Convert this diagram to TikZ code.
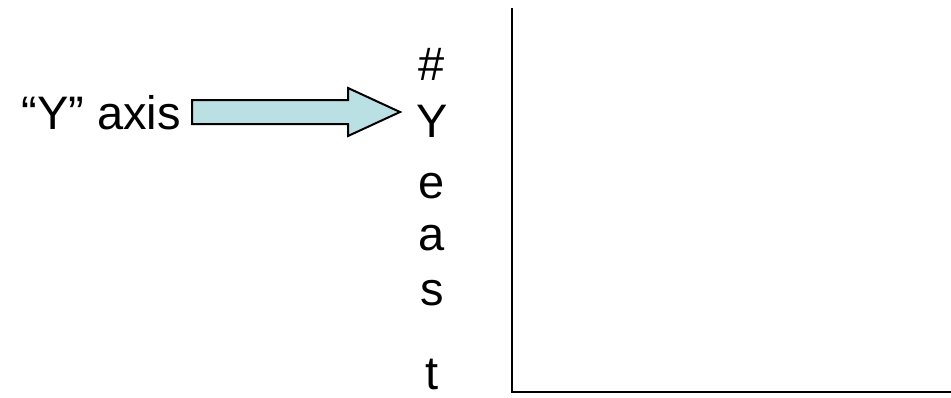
\documentclass[tikz,border=0pt]{standalone}
\usepackage{fontspec}
\setmainfont{Liberation Sans}
\begin{document}
\begin{tikzpicture}[x=1pt,y=-1pt,
  lbl/.style={font=\fontsize{47}{56}\selectfont, inner sep=0pt, anchor=base},
  axisline/.style={line width=2.4pt, black},
  fatarrow/.style={draw=black, line width=2pt, fill=arrowfill, line join=miter}]
\definecolor{arrowfill}{RGB}{187,224,227}
\useasboundingbox (0,0) rectangle (951,397);

% axis label and pointer
\node[lbl, anchor=base east] (ylabel) at (181,129) {“Y” axis};
\draw[fatarrow] (192,100) -- (348,100) -- (348,88) -- (400,112)
  -- (348,136) -- (348,124) -- (192,124) -- cycle;

% vertical caption, one letter per line
\node[lbl] (c1) at (432,80) {\#};
\node[lbl] (c2) at (432,137) {Y};
\node[lbl] (c3) at (432,198) {e};
\node[lbl] (c4) at (432,250) {a};
\node[lbl] (c5) at (432,305) {s};
\node[lbl] (c6) at (432,389) {t};

% axes
\coordinate (top) at (512,8);
\coordinate (origin) at (512,392);
\coordinate (right) at (951,392);
\draw[axisline] (top) -- (origin) -- (right);
\end{tikzpicture}
\end{document}
